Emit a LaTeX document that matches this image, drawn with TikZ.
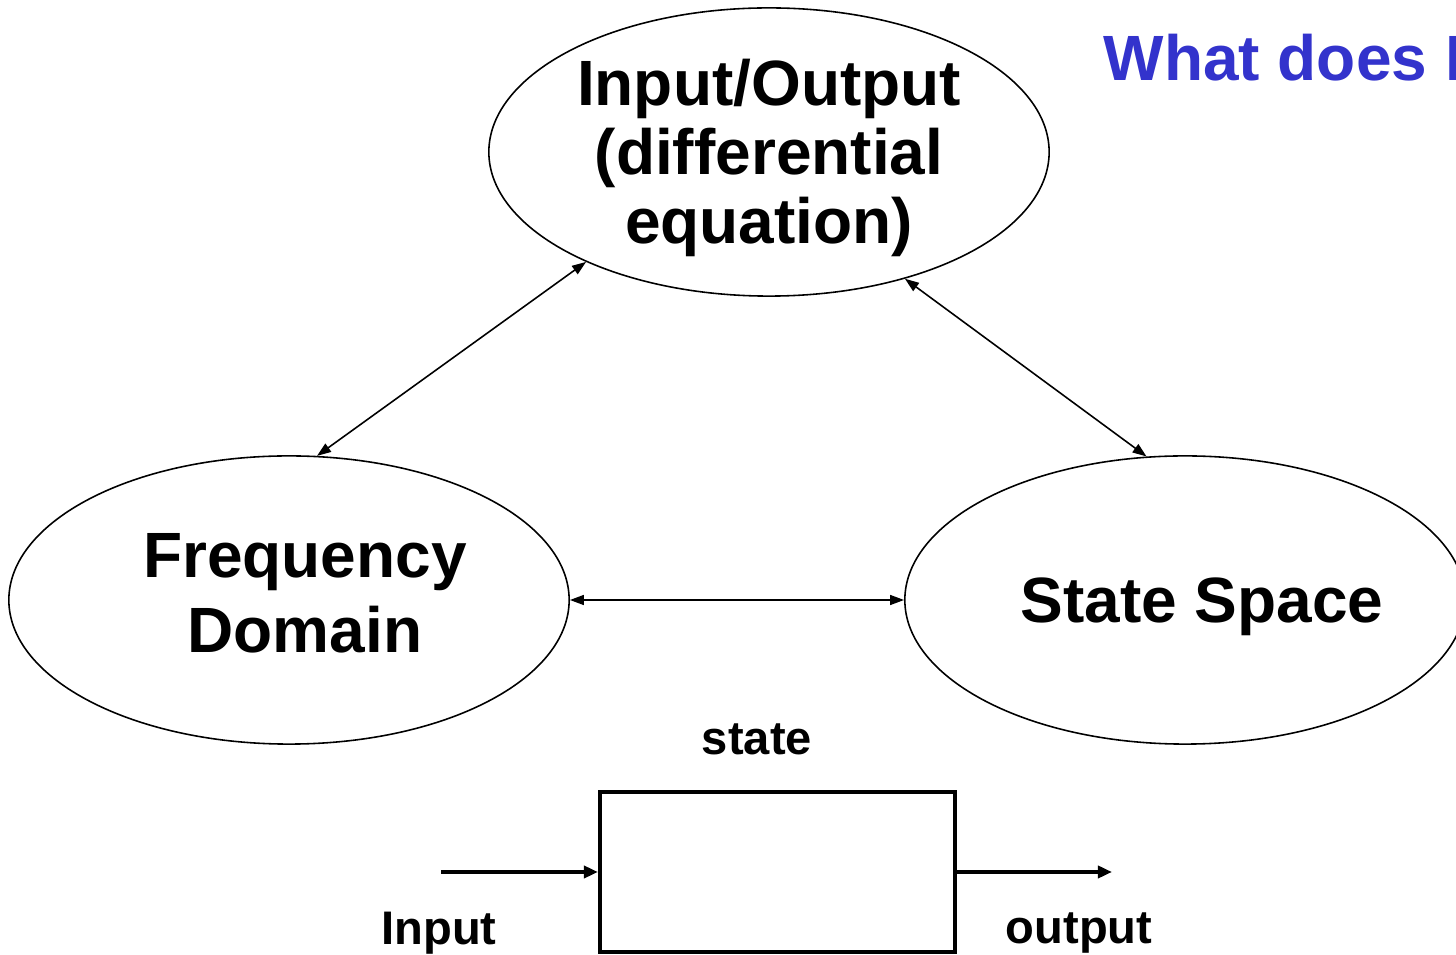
\documentclass[tikz,border=0pt]{standalone}
\usepackage{fontspec}
\setmainfont{Liberation Sans}
\usetikzlibrary{shapes, arrows, positioning, calc, arrows.meta}

\definecolor{titleblue}{RGB}{51,51,204}
\tikzset{
  reprbox/.style={draw, ellipse, line width=0.45pt, inner sep=0pt, minimum width=5.6cm, minimum height=2.88cm},
  bigtxt/.style={font=\bfseries\fontsize{18.2pt}{19.6pt}\selectfont, align=center, inner sep=0pt},
  smalltxt/.style={font=\bfseries\fontsize{13.4pt}{15pt}\selectfont, inner sep=0pt},
  link/.style={<->, >={Triangle[length=0.14cm, width=0.1cm]}, line width=0.45pt},
  sig/.style={->, >={Triangle[length=0.14cm, width=0.12cm]}, line width=1.1pt}
}

\begin{document}
\begin{tikzpicture}[x=0.01cm, y=-0.01cm]
\useasboundingbox (0, 0) rectangle (1456, 955);

\node [reprbox] (io) at (769, 152) {};
\node [reprbox] (freq) at (289, 600) {};
\node [reprbox] (ss) at (1185, 600) {};

\node [bigtxt] (iotxt) at (769, 158) {Input/Output\\(differential\\equation)};
\node [bigtxt, font=\bfseries\fontsize{18.2pt}{21.3pt}\selectfont] (freqtxt) at (305, 593) {Frequency\\Domain};
\node [bigtxt] (sstxt) at (1202, 607) {State Space};

\node [bigtxt, text=titleblue, anchor=base west] (title) at (1103, 81) {What does I};

\draw [link] (io.211.6) -- (freq.79.8);
\draw [link] (io.-43.7) -- (ss.105.4);
\draw [link] (freq.east) -- (ss.west);

\node [draw, line width=1.1pt, minimum width=3.55cm, minimum height=1.6cm, inner sep=0pt] (plant) at (777.5, 872) {};
\coordinate (u) at (441, 872);
\coordinate (y) at (1112, 872);
\draw [sig] (u) -- (plant.west);
\draw [sig] (plant.east) -- (y);

\node [smalltxt] (statelbl) at (757, 739) {state};
\node [smalltxt] (inlbl) at (439, 933) {Input};
\node [smalltxt] (outlbl) at (1079, 933) {output};

\end{tikzpicture}
\end{document}
